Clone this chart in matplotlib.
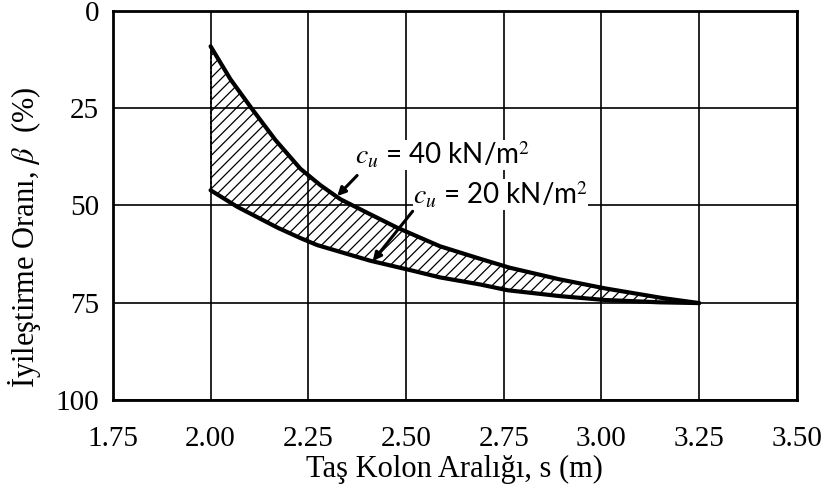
import matplotlib
matplotlib.use("Agg")
import matplotlib.pyplot as plt

# Upper boundary (cu = 40 kN/m2) and lower boundary (cu = 20 kN/m2)
s_40 = [2.00, 2.051, 2.106, 2.166, 2.230, 2.281, 2.332, 2.395, 2.477, 2.587,
        2.689, 2.765, 2.893, 3.008, 3.156, 3.25]
beta_40 = [9.1, 17.6, 25.2, 33.2, 40.6, 44.8, 48.4, 51.6, 55.7, 60.5,
           63.7, 66.0, 69.0, 71.3, 73.8, 75.1]
s_20 = [2.00, 2.069, 2.171, 2.230, 2.273, 2.408, 2.518, 2.587, 2.689, 2.760,
        2.893, 3.008, 3.148, 3.25]
beta_20 = [46.1, 50.4, 55.7, 58.4, 60.2, 64.2, 66.8, 68.5, 70.3, 71.8,
           73.3, 74.3, 74.9, 75.1]

x_ticks = [1.75, 2.00, 2.25, 2.50, 2.75, 3.00, 3.25, 3.50]
y_ticks = [0, 25, 50, 75, 100]

plt.rcParams['mathtext.fontset'] = 'stix'
plt.rcParams['hatch.linewidth'] = 0.9

fig = plt.figure(figsize=(8.24, 4.95), dpi=100)
ax = fig.add_axes([0.137, 0.192, 0.830, 0.786])

ax.set_xlim(1.75, 3.50)
ax.set_ylim(100, 0)
ax.set_xticks(x_ticks)
ax.set_xticklabels([f"{t:.2f}" for t in x_ticks])
ax.set_yticks(y_ticks)
ax.tick_params(length=0, labelsize=21)
ax.tick_params(axis='x', pad=19)
ax.tick_params(axis='y', pad=10)
for lab in ax.get_xticklabels() + ax.get_yticklabels():
    lab.set_family('Liberation Serif')

ax.grid(True, color='black', linewidth=1.2)
ax.set_axisbelow(True)
for sp in ax.spines.values():
    sp.set_linewidth(2.0)

# hatched band between the curves
poly_x = s_40 + s_20[::-1]
poly_y = beta_40 + beta_20[::-1]
ax.fill(poly_x, poly_y, facecolor='none', edgecolor='black', linewidth=0, hatch='///', zorder=2)
ax.plot([s_40[0], s_20[0]], [beta_40[0], beta_20[0]], color='black', lw=1.2, ls=(0, (2, 1)), zorder=3)
ax.plot(s_40, beta_40, color='black', lw=3, solid_capstyle='round', zorder=4)
ax.plot(s_20, beta_20, color='black', lw=3, solid_capstyle='round', zorder=4)

txt = dict(fontsize=20, family='Lato', zorder=5,
           bbox=dict(facecolor='white', edgecolor='none', pad=0))
arr = dict(arrowstyle='-|>', color='black', lw=2.2, mutation_scale=12, shrinkA=0, shrinkB=0)
ax.text(2.369, 39.5, r"$c_u$ = 40 kN/m$^2$", ha='left', va='baseline', **txt)
ax.annotate("", xy=(2.324, 47.6), xytext=(2.375, 42.3), arrowprops=arr, zorder=6)
ax.text(2.517, 49.7, r"$c_u$ = 20 kN/m$^2$", ha='left', va='baseline', **txt)
ax.annotate("", xy=(2.415, 64.3), xytext=(2.517, 51.5), arrowprops=arr, zorder=6)

ax.set_xlabel("Taş Kolon Aralığı, s (m)", family='Liberation Serif', fontsize=22, labelpad=2)
ax.set_ylabel(r"İyileştirme Oranı, $\beta$  (%)", family='Liberation Serif', fontsize=22)
ax.yaxis.set_label_coords(-0.102, 0.418)

fig.savefig("out.png", dpi=100)
